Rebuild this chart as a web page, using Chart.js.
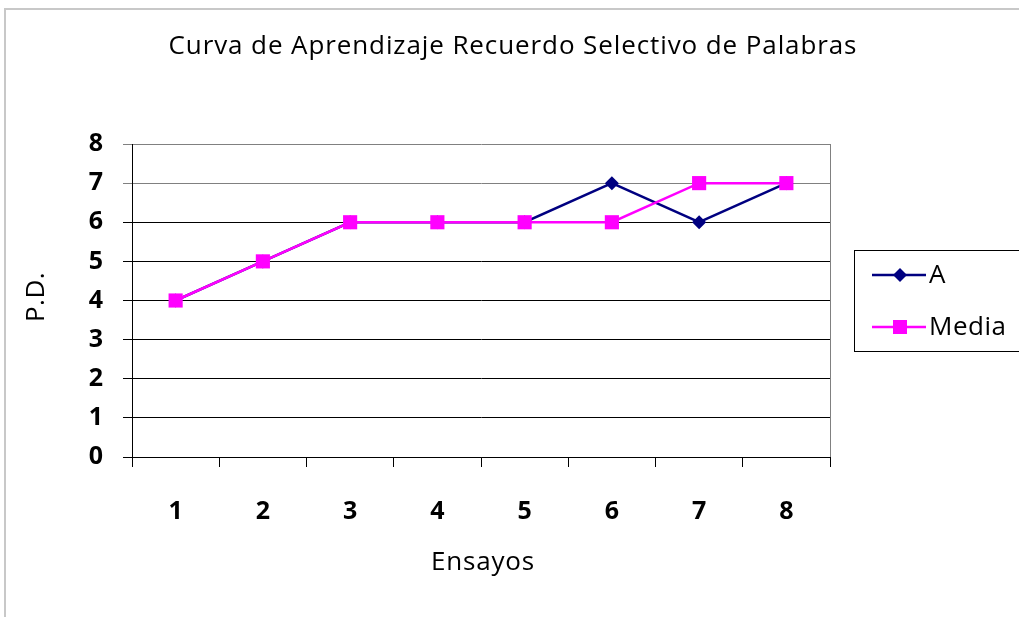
<!DOCTYPE html>
<html>
<head>
<meta charset="utf-8">
<script src="https://cdn.jsdelivr.net/npm/chart.js@4/dist/chart.umd.min.js"></script>
<style>
  html, body { margin: 0; padding: 0; background: #fff; }
  #wrap { width: 1019px; height: 617px; position: relative; }
</style>
</head>
<body>
<div id="wrap"><canvas id="grafico"></canvas></div>
<script>
// Datos del gráfico
const ensayos = ['1', '2', '3', '4', '5', '6', '7', '8'];
const serieA = [4, 5, 6, 6, 6, 7, 6, 7];
const serieMedia = [4, 5, 6, 6, 6, 6, 7, 7];
const titulo = 'Curva de Aprendizaje Recuerdo Selectivo de Palabras';
const tituloY = 'P.D.';
const tituloX = 'Ensayos';

const FUENTE = "'Open Sans', 'Liberation Sans', sans-serif";

// Dibuja marco exterior, título, títulos de ejes, borde derecho y leyenda
const decoracion = {
    id: 'decoracion',
    beforeDraw(chart) {
        const ctx = chart.ctx;
        ctx.save();
        ctx.strokeStyle = '#c8c8c8';
        ctx.lineWidth = 2;
        ctx.strokeRect(5, 9, 1100, 700);
        ctx.restore();
    },
    afterDraw(chart) {
        const ctx = chart.ctx;
        const area = chart.chartArea;
        ctx.save();

        // borde derecho del área de trazado
        ctx.strokeStyle = '#808080';
        ctx.lineWidth = 1;
        ctx.beginPath();
        ctx.moveTo(Math.round(area.right) + 0.5, area.top);
        ctx.lineTo(Math.round(area.right) + 0.5, area.bottom);
        ctx.stroke();

        ctx.fillStyle = '#000';
        ctx.textAlign = 'center';
        ctx.textBaseline = 'middle';
        ctx.font = '26px ' + FUENTE;
        ctx.letterSpacing = '0.9px';
        ctx.fillText(titulo, 513, 47);

        ctx.letterSpacing = '0.8px';
        ctx.fillText(tituloX, (area.left + area.right) / 2 + 2, 563);

        ctx.save();
        ctx.letterSpacing = '0.5px';
        ctx.translate(37, 297);
        ctx.rotate(-Math.PI / 2);
        ctx.fillText(tituloY, 0, 0);
        ctx.restore();

        // leyenda
        ctx.strokeStyle = '#000';
        ctx.lineWidth = 1;
        ctx.strokeRect(854.5, 250.5, 200, 101);
        const filas = [275, 327];
        chart.data.datasets.forEach((ds, i) => {
            const y = filas[i];
            ctx.strokeStyle = ds.borderColor;
            ctx.lineWidth = 2.5;
            ctx.beginPath();
            ctx.moveTo(872, y);
            ctx.lineTo(926, y);
            ctx.stroke();
            ctx.fillStyle = ds.pointBackgroundColor;
            if (ds.pointStyle === 'rectRot') {
                ctx.beginPath();
                ctx.moveTo(900, y - 7);
                ctx.lineTo(907, y);
                ctx.lineTo(900, y + 7);
                ctx.lineTo(893, y);
                ctx.closePath();
                ctx.fill();
            } else {
                ctx.fillRect(893, y - 7, 14, 14);
            }
            ctx.fillStyle = '#000';
            ctx.textAlign = 'left';
            ctx.font = '26px ' + FUENTE;
            ctx.letterSpacing = '0.5px';
            ctx.fillText(ds.label, 929, y + 1);
        });
        ctx.restore();
    }
};

new Chart(document.getElementById('grafico'), {
    type: 'line',
    data: {
        labels: ensayos,
        datasets: [
            {
                label: 'A',
                data: serieA,
                borderColor: '#000080',
                backgroundColor: '#000080',
                pointBackgroundColor: '#000080',
                pointBorderColor: '#000080',
                pointStyle: 'rectRot',
                pointRadius: 7,
                pointBorderWidth: 0,
                borderWidth: 2.5,
                tension: 0,
                order: 1
            },
            {
                label: 'Media',
                data: serieMedia,
                borderColor: '#ff00ff',
                backgroundColor: '#ff00ff',
                pointBackgroundColor: '#ff00ff',
                pointBorderColor: '#ff00ff',
                pointStyle: 'rect',
                pointRadius: 10,
                pointBorderWidth: 0,
                borderWidth: 2.5,
                tension: 0,
                order: 0
            }
        ]
    },
    options: {
        responsive: true,
        maintainAspectRatio: false,
        animation: false,
        layout: { padding: { top: 144, right: 189, left: 0, bottom: 0 } },
        plugins: {
            legend: { display: false },
            title: { display: false },
            tooltip: { enabled: false }
        },
        scales: {
            x: {
                offset: true,
                afterFit: s => { s.height = 160; },
                grid: {
                    offset: true,
                    drawOnChartArea: false,
                    tickLength: 10,
                    color: '#000'
                },
                border: { color: '#000', width: 1 },
                ticks: {
                    color: '#000',
                    padding: 30,
                    font: { family: FUENTE, size: 25, weight: 'bold' }
                }
            },
            y: {
                min: 0,
                max: 8,
                afterFit: s => { s.width = 132; },
                grid: {
                    color: ctx => (ctx.tick && ctx.tick.value >= 7 ? '#808080' : '#000'),
                    tickLength: 9
                },
                border: { color: '#000', width: 1 },
                ticks: {
                    stepSize: 1,
                    color: '#000',
                    padding: 20,
                    font: { family: FUENTE, size: 25, weight: 'bold' }
                }
            }
        }
    },
    plugins: [decoracion]
});
</script>
</body>
</html>
